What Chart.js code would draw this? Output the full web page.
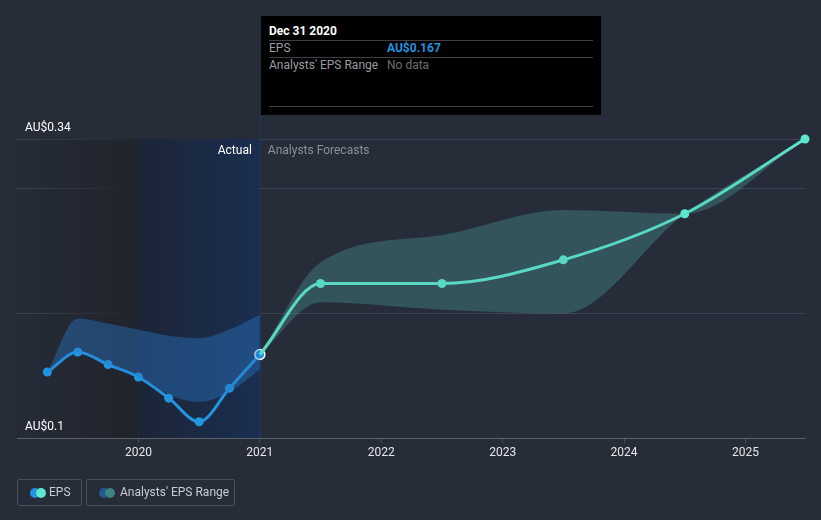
<!DOCTYPE html>
<html>
<head>
<meta charset="utf-8">
<script src="https://cdn.jsdelivr.net/npm/chart.js@4"></script>
<style>
  html, body { margin: 0; padding: 0; background: #262c38; }
  body { width: 821px; height: 520px; position: relative; overflow: hidden; font-family: Roboto, sans-serif; }
  #chart { position: absolute; left: 0; top: 0; }
  .tip { position: absolute; left: 261px; top: 16px; width: 340px; height: 99px; background: #000; font-size: 12px; line-height: 14px; }
  .tip div { white-space: nowrap; }
  .tip .title { position: absolute; left: 8px; top: 8px; color: #fff; font-weight: bold; }
  .tip .sep { position: absolute; left: 8px; width: 324px; height: 1px; background: #3d3f44; }
  .tip .lbl { position: absolute; left: 8px; color: #9a9ca0; }
  .tip .val { position: absolute; left: 126px; }
  .legend { position: absolute; top: 479px; height: 27px; border: 1px solid #4b515c; border-radius: 2px; box-sizing: border-box; color: #c9cdd3; font-size: 12px; line-height: 25px; }
  .legend .dot { position: absolute; top: 8px; width: 10px; height: 10px; border-radius: 50%; }
</style>
</head>
<body>
<canvas id="chart" width="821" height="520"></canvas>

<div class="tip">
  <div class="title">Dec 31 2020</div>
  <div class="sep" style="top:24px"></div>
  <div class="lbl" style="top:25px">EPS</div>
  <div class="val" style="top:25px;color:#2394df;font-weight:bold">AU$0.167</div>
  <div class="sep" style="top:41px"></div>
  <div class="lbl" style="top:42px">Analysts' EPS Range</div>
  <div class="val" style="top:42px;color:#6c6e72">No data</div>
  <div class="sep" style="top:90px"></div>
</div>

<div class="legend" style="left:17px;width:65px">
  <span class="dot" style="left:12px;background:#2394df"></span>
  <span class="dot" style="left:18px;background:#5de8d0"></span>
  <span style="position:absolute;left:31px">EPS</span>
</div>
<div class="legend" style="left:86px;width:149px">
  <span class="dot" style="left:12px;background:#245a8a"></span>
  <span class="dot" style="left:18px;background:#3e8284"></span>
  <span style="position:absolute;left:33px">Analysts' EPS Range</span>
</div>

<script>
// actual EPS (quarterly, trailing)
const actualYears = [2019.25, 2019.5, 2019.75, 2020.0, 2020.25, 2020.5, 2020.75, 2021.0];
const actualEps = [0.153, 0.169, 0.159, 0.149, 0.132, 0.113, 0.140, 0.167];
const actualLow = [0.153, 0.169, 0.159, 0.149, 0.135, 0.129, 0.137, 0.155];
const actualHigh = [0.153, 0.196, 0.192, 0.187, 0.182, 0.180, 0.187, 0.199];

// analyst forecasts
const forecastYears = [2021.0, 2021.5, 2022.5, 2023.5, 2024.5, 2025.49];
const forecastEps = [0.167, 0.224, 0.224, 0.243, 0.280, 0.340];
const forecastLow = [0.167, 0.209, 0.203, 0.200, 0.280, 0.340];
const forecastHigh = [0.167, 0.241, 0.263, 0.283, 0.280, 0.340];

const xTicks = [2020, 2021, 2022, 2023, 2024, 2025];
const yGrid = [0.1, 0.2, 0.3, 0.34];
const yLabels = ['AU$0.1', 'AU$0.34'];

const toPoints = (xs, ys) => xs.map((x, i) => ({ x, y: ys[i] }));

const backdrop = {
  id: 'backdrop',
  beforeDatasetsDraw(chart) {
    const { ctx, chartArea, scales } = chart;
    const x0 = chartArea.left;
    const x1 = scales.x.getPixelForValue(2020);
    const x2 = scales.x.getPixelForValue(2021);
    const top = chartArea.top;
    const h = chartArea.bottom - top;

    ctx.save();
    let g = ctx.createLinearGradient(x0, 0, x1, 0);
    g.addColorStop(0, 'rgba(32,36,44,0)');
    g.addColorStop(1, 'rgba(32,36,44,1)');
    ctx.fillStyle = g;
    ctx.fillRect(x0, top, x1 - x0, h);

    g = ctx.createLinearGradient(x1, 0, x2, 0);
    g.addColorStop(0, '#1c2537');
    g.addColorStop(1, '#1a2e50');
    ctx.fillStyle = g;
    ctx.fillRect(x1, top, x2 - x1, h);

    ctx.strokeStyle = '#1f3b60';
    ctx.lineWidth = 1;
    ctx.beginPath();
    ctx.moveTo(x2 + 0.5, 115);
    ctx.lineTo(x2 + 0.5, chartArea.bottom);
    ctx.stroke();

    ctx.font = '12px Roboto, sans-serif';
    ctx.textBaseline = 'middle';
    ctx.textAlign = 'right';
    ctx.fillStyle = '#ffffff';
    ctx.fillText('Actual', x2 - 8, 151);
    ctx.textAlign = 'left';
    ctx.fillStyle = '#8b9099';
    ctx.fillText('Analysts Forecasts', x2 + 8, 151);
    ctx.restore();
  },
  afterDraw(chart) {
    const { ctx, scales } = chart;
    ctx.save();
    ctx.font = '12px Roboto, sans-serif';
    ctx.fillStyle = '#ffffff';
    ctx.textAlign = 'left';
    ctx.textBaseline = 'middle';
    ctx.fillText(yLabels[0], 25, scales.y.getPixelForValue(0.1) - 11);
    ctx.fillText(yLabels[1], 25, scales.y.getPixelForValue(0.34) - 11);
    ctx.restore();
  }
};

new Chart(document.getElementById('chart'), {
  type: 'line',
  data: {
    datasets: [
      {
        label: 'actual low',
        data: toPoints(actualYears, actualLow),
        borderWidth: 0,
        pointRadius: 0,
        fill: false,
        cubicInterpolationMode: 'monotone'
      },
      {
        label: 'actual high',
        data: toPoints(actualYears, actualHigh),
        borderWidth: 0,
        pointRadius: 0,
        backgroundColor: 'rgba(40, 120, 200, 0.42)',
        fill: '-1',
        cubicInterpolationMode: 'monotone'
      },
      {
        label: 'forecast low',
        data: toPoints(forecastYears, forecastLow),
        borderWidth: 0,
        pointRadius: 0,
        fill: false,
        cubicInterpolationMode: 'monotone'
      },
      {
        label: 'forecast high',
        data: toPoints(forecastYears, forecastHigh),
        borderWidth: 0,
        pointRadius: 0,
        backgroundColor: 'rgba(80, 180, 170, 0.3)',
        fill: '-1',
        cubicInterpolationMode: 'monotone'
      },
      {
        label: 'EPS forecast',
        data: toPoints(forecastYears, forecastEps),
        borderColor: '#5de8d0',
        backgroundColor: '#5de8d0',
        borderWidth: 3,
        pointRadius: forecastYears.map((_, i) => (i === 0 ? 0 : 4.5)),
        pointBorderWidth: 0,
        fill: false,
        cubicInterpolationMode: 'monotone'
      },
      {
        label: 'EPS',
        data: toPoints(actualYears, actualEps),
        borderColor: '#2394df',
        backgroundColor: '#2394df',
        borderWidth: 3,
        pointRadius: actualYears.map((_, i) => (i === actualYears.length - 1 ? 5 : 4.5)),
        pointBorderWidth: actualYears.map((_, i) => (i === actualYears.length - 1 ? 1.5 : 0)),
        pointBorderColor: '#ffffff',
        fill: false,
        cubicInterpolationMode: 'monotone'
      }
    ]
  },
  options: {
    responsive: false,
    animation: false,
    clip: false,
    layout: {
      padding: { top: 139, left: 17, right: 16, bottom: 0 }
    },
    plugins: {
      legend: { display: false },
      tooltip: { enabled: false }
    },
    scales: {
      x: {
        type: 'linear',
        min: 2019.0,
        max: 2025.49,
        afterBuildTicks: (axis) => {
          axis.ticks = xTicks.map((v) => ({ value: v }));
        },
        afterFit: (axis) => {
          axis.height = 82;
        },
        ticks: {
          color: '#e6e8eb',
          font: { family: 'Roboto', size: 12 },
          padding: 3,
          maxRotation: 0,
          callback: (v) => String(v)
        },
        grid: {
          drawOnChartArea: false,
          color: '#4b515c',
          tickLength: 5
        },
        border: { color: '#5a606b', width: 1 }
      },
      y: {
        min: 0.1,
        max: 0.34,
        afterBuildTicks: (axis) => {
          axis.ticks = yGrid.map((v) => ({ value: v }));
        },
        afterFit: (axis) => {
          axis.width = 0;
        },
        ticks: { display: false },
        grid: { color: '#3e4451', drawTicks: false },
        border: { display: false }
      }
    }
  },
  plugins: [backdrop]
});
</script>
</body>
</html>
